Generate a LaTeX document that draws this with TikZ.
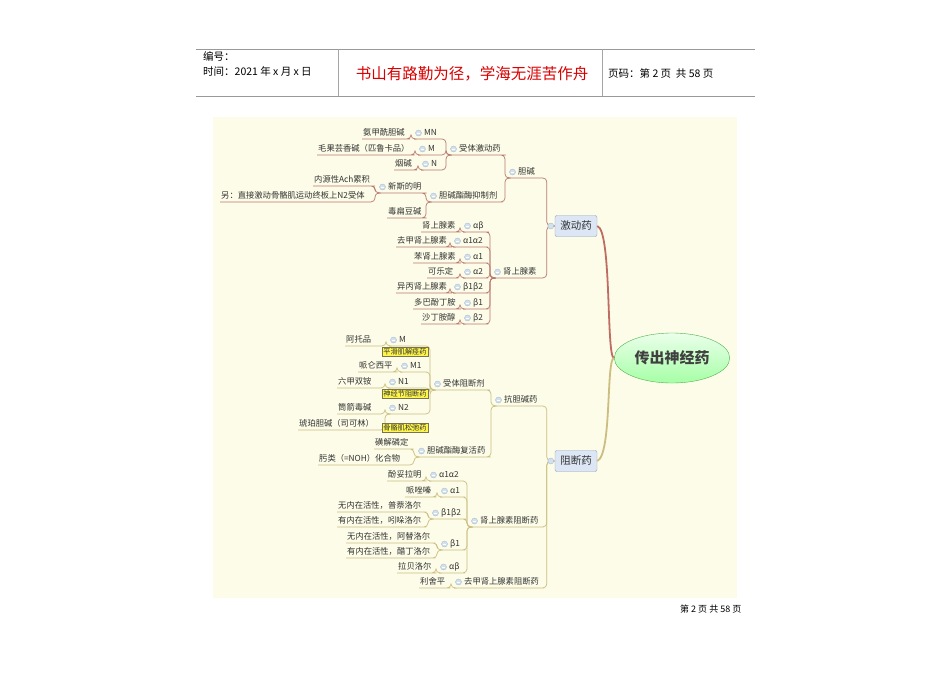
\documentclass[tikz,border=0pt]{standalone}
\usepackage{fontspec}
\setmainfont{Noto Sans CJK SC}
\usetikzlibrary{calc,shapes.geometric}
\definecolor{bg}{HTML}{FCFCE8}
\definecolor{cA}{HTML}{B8786E}
\definecolor{cB}{HTML}{CBBE80}
\definecolor{tx}{HTML}{333333}
\definecolor{mkf}{HTML}{D3E0EE}
\definecolor{mkd}{HTML}{9FB6CE}
\definecolor{boxf}{HTML}{DCE6F4}
\definecolor{boxd}{HTML}{8FA3BE}
\newcommand\cn[4]{\path (#2) ++(-#4,0) coordinate (bx);
  \draw[#3,rounded corners=4pt,line width=0.7pt] (#1.south west) -- (#1.south east) -- (bx |- #1.south east) -- (bx) -- (#2);}
\begin{document}
\begin{tikzpicture}[x=1pt,y=-1pt,
  lf/.style={anchor=west,inner xsep=1pt,inner ysep=1.5pt,text height=6.5pt,text depth=2pt,text=tx,font=\fontsize{8.3}{9}\selectfont},
  pn/.style={lf,execute at begin node=\hspace{9pt}},
  mk/.style={circle,fill=mkf,draw=mkd,line width=0.3pt,inner sep=0pt,minimum size=6pt},
  ybox/.style={draw=black!60!yellow,fill=yellow!70,inner sep=1.2pt,text=tx,font=\fontsize{7.2}{8}\selectfont,line width=0.4pt},
  mbox/.style={draw=boxd,fill=boxf,rounded corners=2pt,minimum width=42pt,minimum height=21pt,inner sep=1pt,text=tx,font=\fontsize{10.5}{12}\selectfont}]
\useasboundingbox (0,0) rectangle (950,672);
% header
\draw[gray!80,line width=0.8pt] (196,49) -- (755,49) (196,96) -- (755,96);
\draw[gray!70,line width=0.8pt] (338,49) -- (338,96) (602,49) -- (602,96);
\node[anchor=west,font=\fontsize{10.5}{11}\selectfont,inner sep=0] (h1) at (203,56) {编号：};
\node[anchor=west,font=\fontsize{10.5}{11}\selectfont,inner sep=0] (h2) at (203,71) {时间：2021 年 x 月 x 日};
\node[font=\fontsize{15.5}{17}\selectfont,text=red!85!black,inner sep=0] (h3) at (472,74) {书山有路勤为径，学海无涯苦作舟};
\node[anchor=west,font=\fontsize{10.5}{11}\selectfont,inner sep=0] (h4) at (608,73) {页码：第 2 页\ \ 共 58 页};
\node[anchor=west,font=\fontsize{9}{10}\selectfont,inner sep=0] (ft) at (680,609) {第 2 页\ 共 58 页};
% background
\fill[bg] (213,117) rectangle (737,598);
% root and main boxes
\node[ellipse,draw=green!40!gray,top color=green!8,bottom color=green!35!white,minimum width=110pt,minimum height=50pt,font=\fontsize{15}{16}\selectfont\bfseries,text=black!75] (root) at (672,358) {传出神经药};
\node[mbox] (jd) at (576,226) {激动药};
\node[mbox] (zd) at (576,461) {阻断药};
\draw[cA!90!red,line width=1.8pt] (root.west) .. controls (606,358) and (612,230) .. (jd.east);
\draw[cB,line width=1.8pt] (root.west) .. controls (606,358) and (612,455) .. (zd.east);
% top branch
\node[lf] (a1) at (362,133) {氨甲酰胆碱};
\node[pn] (MN) at (414,133) {MN};
\node[lf] (a2) at (317,149) {毛果芸香碱（匹鲁卡品）};
\node[pn] (Mt) at (418,149) {M};
\node[lf] (a3) at (394,164) {烟碱};
\node[pn] (Nt) at (421,164) {N};
\node[pn] (stjd) at (449,149) {受体激动药};
\node[lf] (b1) at (313,180) {内源性Ach累积};
\node[lf] (b2) at (220,196) {另：直接激动骨骼肌运动终板上N2受体};
\node[pn] (xsdm) at (378,187) {新斯的明};
\node[lf] (b3) at (387,212) {毒扁豆碱};
\node[pn] (djyz) at (429,196) {胆碱酯酶抑制剂};
\node[pn] (dan) at (508,172) {胆碱};
\node[lf] (c1) at (421,226) {肾上腺素};
\node[lf] (c2) at (396,241) {去甲肾上腺素};
\node[lf] (c3) at (413,257) {苯肾上腺素};
\node[lf] (c4) at (427,272) {可乐定};
\node[lf] (c5) at (396,287) {异丙肾上腺素};
\node[lf] (c6) at (413,303) {多巴酚丁胺};
\node[lf] (c7) at (421,318) {沙丁胺醇};
\node[pn] (g1) at (463,226) {αβ};
\node[pn] (g2) at (453,241) {α1α2};
\node[pn] (g3) at (463,257) {α1};
\node[pn] (g4) at (463,272) {α2};
\node[pn] (g5) at (453,287) {β1β2};
\node[pn] (g6) at (463,303) {β1};
\node[pn] (g7) at (463,318) {β2};
\node[pn] (sss) at (493,272) {肾上腺素};
\cn{a1}{MN.south west}{cA}{3}
\cn{a2}{Mt.south west}{cA}{3}
\cn{a3}{Nt.south west}{cA}{3}
\cn{MN}{stjd.south west}{cA}{3}
\cn{Mt}{stjd.south west}{cA}{3}
\cn{Nt}{stjd.south west}{cA}{3}
\cn{b1}{xsdm.south west}{cA}{3}
\cn{b2}{xsdm.south west}{cA}{3}
\cn{xsdm}{djyz.south west}{cA}{3}
\cn{b3}{djyz.south west}{cA}{3}
\cn{stjd}{dan.south west}{cA}{3}
\cn{djyz}{dan.south west}{cA}{3}
\foreach \i in {1,...,7}{\cn{c\i}{g\i.south west}{cA}{3}}
\foreach \i in {1,...,7}{\cn{g\i}{sss.south west}{cA}{3}}
\cn{dan}{jd.west}{cA}{8}
\cn{sss}{jd.west}{cA}{8}
% bottom branch
\node[lf] (d1) at (345,340) {阿托品};
\node[pn] (Mz) at (389,340) {M};
\node[lf] (d2) at (358,366) {哌仑西平};
\node[pn] (M1) at (400,366) {M1};
\node[lf] (d3) at (337,382) {六甲双铵};
\node[pn] (N1) at (388,382) {N1};
\node[lf] (d4) at (337,408) {筒箭毒碱};
\node[pn] (N2) at (388,408) {N2};
\node[lf] (d5) at (298,424) {琥珀胆碱（司可林）};
\node[pn] (stzd) at (433,384) {受体阻断剂};
\node[lf] (d6) at (374,443) {磺解磷定};
\node[lf] (d7) at (318,459) {肟类（=NOH）化合物};
\node[pn] (djfh) at (417,451) {胆碱酯酶复活药};
\node[pn] (kdj) at (494,400) {抗胆碱药};
\node[lf] (e1) at (387,475) {酚妥拉明};
\node[pn] (f1) at (429,475) {α1α2};
\node[lf] (e2) at (405,491) {哌唑嗪};
\node[pn] (f2) at (440,491) {α1};
\node[lf] (e3) at (337,506) {无内在活性，普萘洛尔};
\node[lf] (e4) at (337,521) {有内在活性，吲哚洛尔};
\node[pn] (f3) at (431,513) {β1β2};
\node[lf] (e5) at (346,537) {无内在活性，阿替洛尔};
\node[lf] (e6) at (346,552) {有内在活性，醋丁洛尔};
\node[pn] (f4) at (440,544) {β1};
\node[lf] (e7) at (397,567) {拉贝洛尔};
\node[pn] (f5) at (439,567) {αβ};
\node[pn] (szd) at (470,521) {肾上腺素阻断药};
\node[lf] (e8) at (419,582) {利舍平};
\node[pn] (qjz) at (454,582) {去甲肾上腺素阻断药};
\cn{d1}{Mz.south west}{cB}{3}
\cn{d2}{M1.south west}{cB}{3}
\cn{d3}{N1.south west}{cB}{3}
\cn{d4}{N2.south west}{cB}{3}
\cn{d5}{N2.south west}{cB}{3}
\cn{Mz}{stzd.south west}{cB}{3}
\cn{M1}{stzd.south west}{cB}{3}
\cn{N1}{stzd.south west}{cB}{3}
\cn{N2}{stzd.south west}{cB}{3}
\cn{d6}{djfh.south west}{cB}{3}
\cn{d7}{djfh.south west}{cB}{3}
\cn{stzd}{kdj.south west}{cB}{3}
\cn{djfh}{kdj.south west}{cB}{3}
\cn{e1}{f1.south west}{cB}{3}
\cn{e2}{f2.south west}{cB}{3}
\cn{e3}{f3.south west}{cB}{3}
\cn{e4}{f3.south west}{cB}{3}
\cn{e5}{f4.south west}{cB}{3}
\cn{e6}{f4.south west}{cB}{3}
\cn{e7}{f5.south west}{cB}{3}
\foreach \i in {1,...,5}{\cn{f\i}{szd.south west}{cB}{3}}
\cn{e8}{qjz.south west}{cB}{3}
\cn{kdj}{zd.west}{cB}{8}
\cn{szd}{zd.west}{cB}{8}
\cn{qjz}{zd.west}{cB}{8}
\node[ybox] (y1) at (405,352) {平滑肌解痉药};
\node[ybox] (y2) at (405,394) {神经节阻断药};
\node[ybox] (y3) at (405,428) {骨骼肌松弛药};
% markers
\foreach \n in {MN,Mt,Nt,stjd,xsdm,djyz,dan,g1,g2,g3,g4,g5,g6,g7,sss,Mz,M1,N1,N2,stzd,djfh,kdj,f1,f2,f3,f4,f5,szd,qjz}{
  \node[mk] (m-\n) at ([xshift=4.5pt]\n.west) {};
  \draw[white,line width=0.6pt] ([xshift=-1.6pt]m-\n.center) -- ([xshift=1.6pt]m-\n.center);}
\node[mk] (mjd) at ([xshift=-4pt]jd.west) {};
\node[mk] (mzd) at ([xshift=-4pt]zd.west) {};
\end{tikzpicture}
\end{document}
